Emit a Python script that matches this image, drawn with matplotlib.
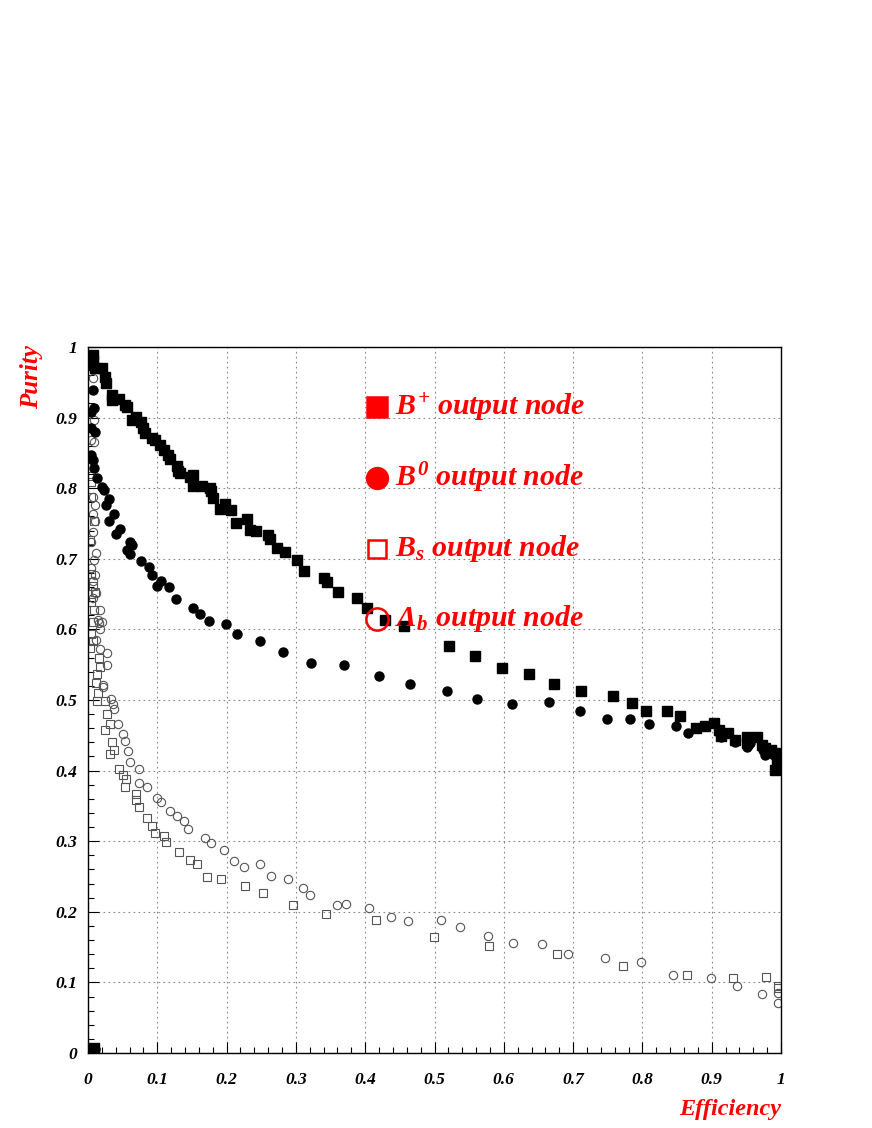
import matplotlib
matplotlib.use("Agg")
import matplotlib.pyplot as plt
import numpy as np

# Purity vs efficiency of the four output nodes
bp_eff = [0.003, 0.008, 0.0077, 0.0077, 0.005, 0.010, 0.020, 0.0245, 0.026, 0.034, 0.034, 0.045,
          0.053, 0.056, 0.064, 0.069, 0.077, 0.080, 0.082, 0.092, 0.097, 0.104, 0.109, 0.116,
          0.118, 0.128, 0.130, 0.133, 0.147, 0.152, 0.152, 0.164, 0.176, 0.178, 0.181, 0.190,
          0.198, 0.207, 0.214, 0.230, 0.234, 0.242, 0.260, 0.262, 0.273, 0.284, 0.301, 0.312,
          0.341, 0.345, 0.361, 0.388, 0.403, 0.429, 0.456, 0.521, 0.558, 0.598, 0.637, 0.672,
          0.711, 0.758, 0.785, 0.805, 0.835, 0.854, 0.878, 0.890, 0.904, 0.910, 0.914, 0.924,
          0.934, 0.951, 0.965, 0.951, 0.972, 0.977, 0.986, 0.991, 0.994, 0.991, 0.996]
bp_pur = [0.005, 0.007, 0.989, 0.982, 0.975, 0.970, 0.970, 0.958, 0.949, 0.932, 0.925, 0.927,
          0.918, 0.915, 0.897, 0.901, 0.894, 0.885, 0.878, 0.871, 0.868, 0.861, 0.854, 0.847,
          0.841, 0.831, 0.825, 0.822, 0.816, 0.819, 0.803, 0.803, 0.800, 0.796, 0.786, 0.771,
          0.778, 0.769, 0.751, 0.757, 0.741, 0.739, 0.734, 0.728, 0.715, 0.710, 0.698, 0.683,
          0.673, 0.667, 0.653, 0.645, 0.631, 0.614, 0.605, 0.576, 0.562, 0.546, 0.537, 0.522,
          0.513, 0.506, 0.496, 0.484, 0.484, 0.477, 0.461, 0.463, 0.467, 0.458, 0.449, 0.453,
          0.443, 0.448, 0.448, 0.439, 0.436, 0.432, 0.429, 0.425, 0.415, 0.401, 0.410]

b0_eff = [0.004, 0.010, 0.0077, 0.0087, 0.005, 0.005, 0.010, 0.005, 0.0067, 0.0087, 0.0125, 0.020,
          0.023, 0.031, 0.026, 0.037, 0.031, 0.046, 0.041, 0.061, 0.063, 0.056, 0.061, 0.076,
          0.088, 0.093, 0.106, 0.100, 0.117, 0.127, 0.151, 0.161, 0.175, 0.199, 0.215, 0.248,
          0.281, 0.322, 0.370, 0.420, 0.465, 0.518, 0.561, 0.612, 0.665, 0.710, 0.749, 0.782,
          0.810, 0.848, 0.866, 0.912, 0.914, 0.934, 0.951, 0.955, 0.974, 0.977, 0.984, 0.991]
b0_pur = [0.006, 0.005, 0.939, 0.913, 0.908, 0.885, 0.880, 0.847, 0.840, 0.828, 0.815, 0.802,
          0.797, 0.784, 0.776, 0.763, 0.753, 0.742, 0.735, 0.724, 0.720, 0.713, 0.707, 0.697,
          0.688, 0.677, 0.669, 0.661, 0.660, 0.643, 0.631, 0.622, 0.612, 0.607, 0.594, 0.583,
          0.568, 0.553, 0.550, 0.534, 0.523, 0.513, 0.501, 0.494, 0.497, 0.484, 0.473, 0.473,
          0.466, 0.463, 0.453, 0.452, 0.448, 0.441, 0.434, 0.439, 0.429, 0.422, 0.425, 0.420]

bs_eff = [0.004, 0.005, 0.005, 0.009, 0.003, 0.005, 0.007, 0.010, 0.005, 0.009, 0.007, 0.005,
          0.007, 0.003, 0.016, 0.017, 0.013, 0.012, 0.015, 0.0125, 0.0245, 0.027, 0.032, 0.0245,
          0.034, 0.038, 0.032, 0.045, 0.050, 0.055, 0.053, 0.069, 0.069, 0.073, 0.085, 0.093,
          0.097, 0.109, 0.112, 0.131, 0.147, 0.158, 0.172, 0.192, 0.227, 0.253, 0.296, 0.343,
          0.416, 0.499, 0.578, 0.677, 0.772, 0.865, 0.931, 0.978, 0.995, 0.995]
bs_pur = [0.817, 0.809, 0.788, 0.753, 0.727, 0.679, 0.661, 0.653, 0.639, 0.628, 0.611, 0.594,
          0.583, 0.573, 0.560, 0.547, 0.537, 0.524, 0.510, 0.498, 0.498, 0.480, 0.466, 0.458,
          0.441, 0.429, 0.424, 0.402, 0.394, 0.388, 0.377, 0.367, 0.359, 0.349, 0.333, 0.322,
          0.312, 0.308, 0.299, 0.284, 0.273, 0.268, 0.250, 0.247, 0.236, 0.226, 0.209, 0.197,
          0.189, 0.165, 0.152, 0.140, 0.123, 0.110, 0.106, 0.107, 0.095, 0.092]

lb_eff = [0.0077, 0.0087, 0.005, 0.009, 0.005, 0.0067, 0.010, 0.007, 0.010, 0.007, 0.005, 0.0115,
          0.009, 0.005, 0.010, 0.007, 0.0115, 0.007, 0.017, 0.015, 0.020, 0.016, 0.018, 0.0115,
          0.018, 0.027, 0.028, 0.021, 0.021, 0.033, 0.036, 0.037, 0.044, 0.050, 0.053, 0.057,
          0.061, 0.073, 0.073, 0.085, 0.099, 0.105, 0.119, 0.128, 0.139, 0.145, 0.169, 0.177,
          0.196, 0.211, 0.225, 0.248, 0.264, 0.289, 0.310, 0.320, 0.359, 0.373, 0.406, 0.437,
          0.462, 0.509, 0.537, 0.577, 0.613, 0.655, 0.692, 0.746, 0.798, 0.844, 0.899, 0.936,
          0.972, 0.996, 0.996]
lb_pur = [0.956, 0.897, 0.868, 0.866, 0.842, 0.788, 0.776, 0.764, 0.753, 0.738, 0.724, 0.708,
          0.698, 0.687, 0.677, 0.669, 0.651, 0.645, 0.628, 0.613, 0.611, 0.609, 0.600, 0.585,
          0.572, 0.566, 0.549, 0.521, 0.518, 0.501, 0.494, 0.487, 0.466, 0.452, 0.442, 0.428,
          0.412, 0.402, 0.383, 0.377, 0.361, 0.356, 0.343, 0.336, 0.328, 0.317, 0.304, 0.298,
          0.287, 0.272, 0.263, 0.268, 0.251, 0.246, 0.234, 0.224, 0.210, 0.211, 0.206, 0.192,
          0.187, 0.189, 0.178, 0.166, 0.156, 0.155, 0.140, 0.135, 0.129, 0.111, 0.106, 0.095,
          0.083, 0.085, 0.071]

legend_labels = [r"$B^{+}$ output node", r"$B^{0}$ output node",
                 r"$B_{s}$ output node", r"$\Lambda_{b}$ output node"]

plt.rcParams["mathtext.fontset"] = "custom"
plt.rcParams["mathtext.it"] = "Liberation Serif:italic:bold"
plt.rcParams["mathtext.rm"] = "Liberation Serif:italic:bold"
plt.rcParams["mathtext.bf"] = "Liberation Serif:italic:bold"

serif_bi = dict(family="Liberation Serif", weight="bold", style="italic")

fig = plt.figure(figsize=(8.72, 11.28), dpi=100)
ax = fig.add_axes([88 / 872, 75 / 1128, 693 / 872, 706 / 1128])

ax.plot(lb_eff, lb_pur, "o", ms=6, mfc="none", mec="#555555", mew=0.8, ls="none")
ax.plot(bs_eff, bs_pur, "s", ms=6, mfc="none", mec="#555555", mew=0.8, ls="none")
ax.plot(b0_eff, b0_pur, "o", ms=6.5, color="black", ls="none")
ax.plot(bp_eff, bp_pur, "s", ms=6.5, color="black", ls="none")

ax.set_xlim(0, 1)
ax.set_ylim(0, 1)
ticks = np.arange(0, 1.01, 0.1)
ax.set_xticks(ticks)
ax.set_yticks(ticks)
ax.set_xticklabels(["0"] + ["%.1f" % t for t in ticks[1:-1]] + ["1"])
ax.set_yticklabels(["0"] + ["%.1f" % t for t in ticks[1:-1]] + ["1"])
ax.set_xticks(np.arange(0, 1.001, 0.02), minor=True)
ax.set_yticks(np.arange(0, 1.001, 0.02), minor=True)
ax.tick_params(which="major", direction="in", length=8, width=0.8, pad=8, labelsize=12.5)
ax.tick_params(which="minor", direction="in", length=4, width=0.8)
ax.tick_params(axis="x", which="major", pad=14)
for lab in ax.get_xticklabels() + ax.get_yticklabels():
    lab.set_fontfamily("Liberation Serif")
    lab.set_fontweight("bold")
    lab.set_fontstyle("italic")
ax.grid(True, which="major", ls=(0, (1.5, 3)), color="#888888", lw=0.8)
for sp in ax.spines.values():
    sp.set_linewidth(1.0)

# axis titles, ROOT style
fig.text(32 / 872, 1 - 345 / 1128, "Purity", color="red", rotation=90,
         ha="center", va="top", fontsize=18, **serif_bi)
fig.text(781 / 872, 1 - 1110 / 1128, "Efficiency", color="red",
         ha="right", va="center", fontsize=17.5, **serif_bi)

# legend drawn as text entries
rows = [0.915, 0.815, 0.714, 0.615]
marks = [("s", "red", 14), ("o", "red", 15), ("s", "none", 13), ("o", "none", 16)]
for yy, (m, fc, ms), lab in zip(rows, marks, legend_labels):
    ax.plot([0.417], [yy], m, ms=ms, mfc=fc, mec="red", mew=1.8,
            transform=ax.transAxes, clip_on=False)
    ax.text(0.443, yy, lab, transform=ax.transAxes, color="red",
            ha="left", va="center", fontsize=21.5, **serif_bi)

fig.savefig("out.png", dpi=100)
